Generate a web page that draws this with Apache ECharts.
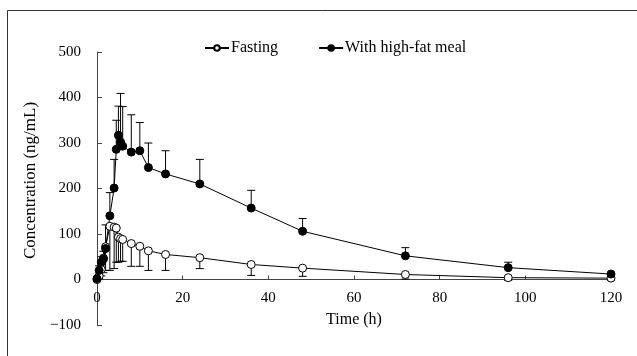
<!DOCTYPE html>
<html>
<head>
<meta charset="utf-8">
<script src="https://cdn.jsdelivr.net/npm/echarts@6/dist/echarts.min.js"></script>
<style>
  html, body { margin: 0; padding: 0; background: #fff; }
  #chart { width: 637px; height: 356px; }
</style>
</head>
<body>
<div id="chart"></div>
<script>
// sampling times (h)
var times = [0, 0.5, 1, 1.5, 2, 3, 4, 4.5, 5, 5.5, 6, 8, 10, 12, 16, 24, 36, 48, 72, 96, 120];
// fasting: mean and lower end of error bar (ng/mL)
var fastingMean  = [0, 8, 22, 47, 72, 117, 115, 113, 93, 90, 88, 79, 73, 63, 55, 48, 33, 25, 11, 4, 3];
var fastingLower = [0, 2, 8, 15, 20, 20, 24, 38, 38, 40, 40, 29, 29, 20, 20, 24, 9, 7, 1, -2, -2];
// with high-fat meal: mean and upper end of error bar (ng/mL)
var fedMean  = [2, 20, 38, 45, 68, 140, 201, 286, 317, 302, 293, 280, 283, 246, 232, 210, 157, 106, 52, 26, 12];
var fedUpper = [3, 30, 50, 62, 120, 191, 264, 350, 381, 409, 380, 362, 345, 300, 283, 264, 196, 134, 70, 38, 15];

var xTicks = { min: 0, max: 120, interval: 20 };
var yTicks = { min: -100, max: 500, interval: 100 };

var font = 'Liberation Serif';
var gridTop = 52, gridBottom = 31, chartH = 356;

function pairs(ys) {
  return times.map(function (t, i) { return [t, ys[i]]; });
}
function bars(means, ends) {
  return times.map(function (t, i) { return [t, means[i], ends[i]]; });
}

function renderBar(params, api) {
  var p = api.coord([api.value(0), api.value(1)]);
  var q = api.coord([api.value(0), api.value(2)]);
  var st = { stroke: '#000', lineWidth: 1 };
  return {
    type: 'group',
    children: [
      { type: 'line', shape: { x1: p[0], y1: p[1], x2: q[0], y2: q[1] }, style: st },
      { type: 'line', shape: { x1: q[0] - 4, y1: q[1], x2: q[0] + 4, y2: q[1] }, style: st }
    ]
  };
}

// x axis sits on y = 0: shift it up from the grid bottom by the height of the part below zero
var plotH = chartH - gridTop - gridBottom;
var zeroShift = plotH * (0 - yTicks.min) / (yTicks.max - yTicks.min);

var chart = echarts.init(document.getElementById('chart'), null, { renderer: 'canvas' });
chart.setOption({
  animation: false,
  backgroundColor: '#fff',
  graphic: [{
    type: 'rect',
    shape: { x: 7.5, y: 10.5, width: 700, height: 400 },
    style: { fill: 'none', stroke: '#333', lineWidth: 1 },
    silent: true
  }],
  legend: {
    left: 199,
    top: 35,
    itemGap: 40,
    itemWidth: 24,
    itemHeight: 7,
    textStyle: { fontFamily: font, fontSize: 16, color: '#000', padding: [0, 0, 0, -3] },
    data: ['Fasting', 'With high-fat meal']
  },
  grid: { left: 97, right: 26, top: gridTop, bottom: gridBottom, containLabel: false, outerBoundsMode: 'none' },
  xAxis: {
    type: 'value',
    min: xTicks.min, max: xTicks.max, interval: xTicks.interval,
    name: 'Time (h)',
    nameLocation: 'middle',
    nameGap: 32,
    nameTextStyle: { fontFamily: font, fontSize: 16, color: '#000' },
    offset: -zeroShift,
    axisLine: { onZero: false, lineStyle: { color: '#444', width: 1 } },
    axisTick: { inside: true, length: 4, lineStyle: { color: '#444' } },
    axisLabel: { fontFamily: font, fontSize: 15, color: '#000', margin: 11 },
    splitLine: { show: false }
  },
  yAxis: {
    type: 'value',
    min: yTicks.min, max: yTicks.max, interval: yTicks.interval,
    name: 'Concentration (ng/mL)',
    nameLocation: 'middle',
    nameGap: 51,
    nameTextStyle: { fontFamily: font, fontSize: 17, color: '#000', padding: [0, 0, 0, 16] },
    axisLine: { show: true, onZero: false, lineStyle: { color: '#444', width: 1 } },
    axisTick: { show: true, inside: true, length: 5, lineStyle: { color: '#444' } },
    axisLabel: {
      fontFamily: font, fontSize: 15, color: '#000', margin: 16,
      formatter: function (v) { return String(v).replace('-', '\u2212'); }
    },
    splitLine: { show: false }
  },
  series: [
    {
      type: 'custom',
      name: 'fasting-sd',
      renderItem: renderBar,
      encode: { x: 0, y: [1, 2] },
      data: bars(fastingMean, fastingLower),
      z: 1,
      silent: true
    },
    {
      type: 'custom',
      name: 'fed-sd',
      renderItem: renderBar,
      encode: { x: 0, y: [1, 2] },
      data: bars(fedMean, fedUpper),
      z: 1,
      silent: true
    },
    {
      name: 'Fasting',
      type: 'line',
      data: pairs(fastingMean),
      symbol: 'circle',
      symbolSize: 8,
      showAllSymbol: true,
      lineStyle: { color: '#000', width: 1 },
      itemStyle: { color: '#fff', borderColor: '#000', borderWidth: 1 },
      z: 3
    },
    {
      name: 'With high-fat meal',
      type: 'line',
      data: pairs(fedMean),
      symbol: 'circle',
      symbolSize: 8,
      showAllSymbol: true,
      lineStyle: { color: '#000', width: 1 },
      itemStyle: { color: '#000', borderColor: '#000', borderWidth: 1 },
      z: 3
    }
  ]
});
</script>
</body>
</html>
